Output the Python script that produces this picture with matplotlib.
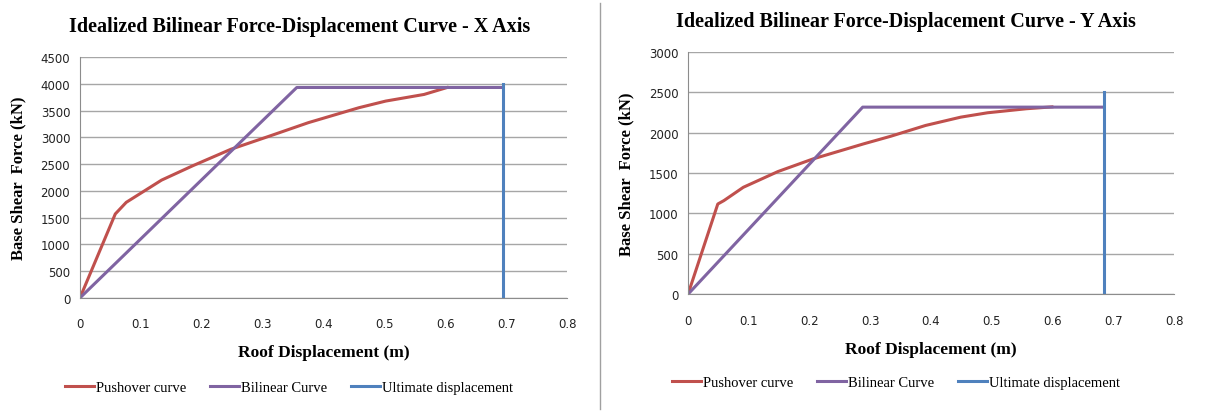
import matplotlib
matplotlib.use("Agg")
import matplotlib.pyplot as plt
from matplotlib.lines import Line2D

# X axis data
x_push_disp = [0, 0.058, 0.076, 0.134, 0.185, 0.248, 0.312, 0.375, 0.458, 0.502, 0.565, 0.603]
x_push_force = [0, 1568, 1785, 2200, 2467, 2777, 3025, 3273, 3552, 3676, 3800, 3930]
x_bil_disp = [0, 0.356, 0.695]
x_bil_force = [0, 3930, 3930]
x_ult_disp = [0.695, 0.695]
x_ult_force = [0, 4000]

# Y axis data
y_push_disp = [0, 0.049, 0.059, 0.091, 0.148, 0.206, 0.289, 0.334, 0.391, 0.449, 0.493, 0.557, 0.599]
y_push_force = [0, 1117, 1159, 1324, 1519, 1676, 1862, 1957, 2090, 2193, 2247, 2297, 2320]
y_bil_disp = [0, 0.2875, 0.684]
y_bil_force = [0, 2317, 2317]
y_ult_disp = [0.685, 0.685]
y_ult_force = [0, 2510]

red = '#C0504D'
purple = '#8064A2'
blue = '#4F81BD'
serif = 'Liberation Serif'
W, H = 1206, 414

fig = plt.figure(figsize=(12.06, 4.14), dpi=100)

def draw(ax, pd_, pf, bd, bf, ud, uf, ymax, title, title_xy, leg_xy):
    ax.plot(pd_, pf, color=red, lw=2.2, label='Pushover curve')
    ax.plot(bd, bf, color=purple, lw=2.2, label='Bilinear Curve')
    ax.plot(ud, uf, color=blue, lw=2.2, label='Ultimate displacement')
    ax.set_xlim(0, 0.8)
    ax.set_ylim(0, ymax)
    ax.set_xticks([0, 0.1, 0.2, 0.3, 0.4, 0.5, 0.6, 0.7, 0.8])
    ax.set_xticklabels(['0', '0.1', '0.2', '0.3', '0.4', '0.5', '0.6', '0.7', '0.8'])
    ax.set_yticks(range(0, ymax + 1, 500))
    ax.grid(axis='y', color='#A6A6A6', lw=1)
    ax.set_axisbelow(True)
    for s in ['top', 'right']:
        ax.spines[s].set_visible(False)
    ax.spines['left'].set_color('#8C8C8C')
    ax.spines['bottom'].set_color('#8C8C8C')
    ax.tick_params(length=0, labelsize=8.5, pad=7, labelcolor='#222222')
    ax.tick_params(axis='x', pad=14)
    fig.text(title_xy[0] / W, 1 - title_xy[1] / H, title, fontfamily=serif, fontweight='bold',
             fontsize=14.5, ha='center', va='center')
    ax.set_xlabel('Roof Displacement (m)', fontfamily=serif, fontweight='bold', fontsize=12.5, labelpad=10)
    ax.set_ylabel('Base Shear  Force (kN)', fontfamily=serif, fontweight='bold', fontsize=12, labelpad=10)
    h, l = ax.get_legend_handles_labels()
    fig.legend(h, l, loc='center', bbox_to_anchor=(leg_xy[0] / W, 1 - leg_xy[1] / H), ncol=3, frameon=False,
               prop={'family': serif, 'size': 10.5}, handlelength=2.0, columnspacing=1.6, handletextpad=0.15)

ax1 = fig.add_axes([0.0663, 0.278, 0.404, 0.582])
draw(ax1, x_push_disp, x_push_force, x_bil_disp, x_bil_force, x_ult_disp, x_ult_force, 4500,
     'Idealized Bilinear Force-Displacement Curve - X Axis', (300, 27), (289, 388))

ax2 = fig.add_axes([0.5705, 0.287, 0.403, 0.585])
draw(ax2, y_push_disp, y_push_force, y_bil_disp, y_bil_force, y_ult_disp, y_ult_force, 3000,
     'Idealized Bilinear Force-Displacement Curve - Y Axis', (906, 22), (896, 383))

fig.add_artist(Line2D([600 / W, 600 / W], [0.01, 0.99], color='#A0A0A0', lw=1))

fig.savefig('out.png', dpi=100)
